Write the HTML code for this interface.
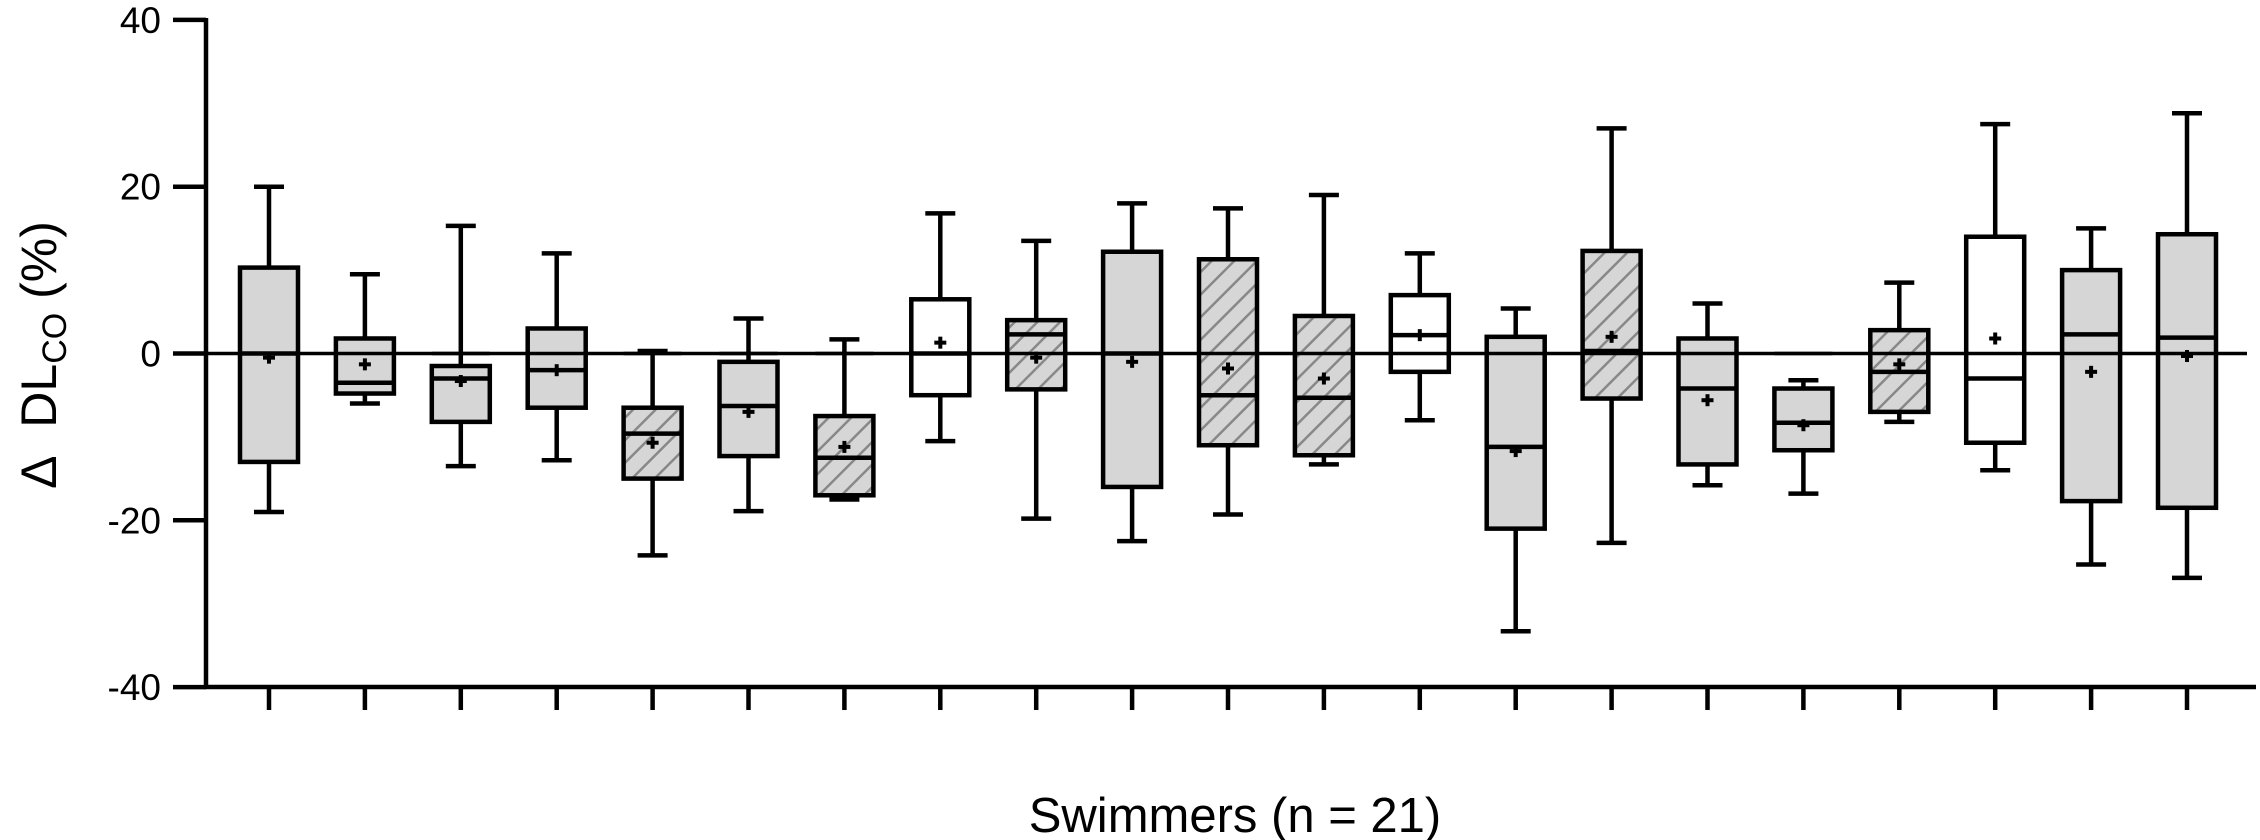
<!DOCTYPE html>
<html><head><meta charset="utf-8"><style>
body{margin:0;background:#fff}
svg{display:block}
text{font-family:"Liberation Sans",sans-serif;fill:#000}
</style></head><body>
<svg id="chart" width="2260" height="840" viewBox="0 0 2260 840" xmlns="http://www.w3.org/2000/svg">
<defs>
<pattern id="hatch" patternUnits="userSpaceOnUse" width="16" height="16" patternTransform="rotate(45)">
<rect width="16" height="16" fill="#d6d6d6"/>
<line x1="0" y1="0" x2="0" y2="16" stroke="#888" stroke-width="5"/>
</pattern>
</defs>
<g id="axes"></g>
<g id="marks"></g>
</svg>
<script>
const swimmers=[1,2,3,4,5,6,7,8,9,10,11,12,13,14,15,16,17,18,19,20,21];
const whiskerHigh=[20,9.5,15.3,12,0.3,4.2,1.7,16.8,13.5,18,17.4,19,12,5.4,27,6,-3.2,8.5,27.5,15,28.8];
const whiskerLow=[-19,-6,-13.5,-12.8,-24.2,-18.9,-17.5,-10.5,-19.8,-22.5,-19.3,-13.3,-8,-33.3,-22.7,-15.8,-16.8,-8.2,-14,-25.3,-26.9];
const q3=[10.3,1.8,-1.5,3,-6.5,-1,-7.5,6.5,4,12.2,11.3,4.5,7,2,12.3,1.8,-4.2,2.8,14,10,14.3];
const q1=[-13,-4.8,-8.2,-6.5,-15,-12.3,-17,-5,-4.3,-16,-11,-12.2,-2.2,-21,-5.4,-13.3,-11.6,-7,-10.7,-17.7,-18.5];
const medians=[0,-3.5,-3,-2,-9.6,-6.3,-12.5,0,2.3,0,-5,-5.3,2.2,-11.2,0.3,-4.2,-8.3,-2.2,-3,2.3,1.9];
const means=[-0.5,-1.3,-3.3,-2,-10.7,-7,-11.2,1.3,-0.5,-1,-1.8,-3,2.2,-11.7,2,-5.6,-8.6,-1.3,1.8,-2.2,-0.3];
const fills=["gray","gray","gray","gray","hatch","gray","hatch","white","hatch","gray","hatch","hatch","white","gray","hatch","gray","gray","hatch","white","gray","gray"];
const yTicks=[40,20,0,-20,-40];

const NS="http://www.w3.org/2000/svg";
const y=v=>353.5-(v*8.34);
const x=i=>269+i*95.9;
const SW=4.5;
function mk(p,tag,a){const e=document.createElementNS(NS,tag);for(const k in a)e.setAttribute(k,a[k]);p.appendChild(e);return e;}
const axes=document.getElementById('axes'), marks=document.getElementById('marks');

let e=mk(axes,'line',{x1:206,y1:18,x2:206,y2:689,stroke:'#000','stroke-width':SW});


e=mk(axes,'line',{x1:204,y1:687,x2:2256,y2:687,stroke:'#000','stroke-width':SW});


yTicks.forEach(t=>{
  const tk=mk(axes,'line',{x1:173,y1:y(t),x2:206,y2:y(t),stroke:'#000','stroke-width':SW});
  
  
  const lb=mk(axes,'text',{x:161,y:y(t)+13,'text-anchor':'end','font-size':37});
  lb.textContent=t;
  
  
});
swimmers.forEach((s,i)=>{
  const tk=mk(axes,'line',{x1:x(i),y1:687,x2:x(i),y2:710,stroke:'#000','stroke-width':SW});
  
  
});
e=mk(axes,'line',{x1:173,y1:y(0),x2:2247,y2:y(0),stroke:'#000','stroke-width':3.5});



const yl=mk(axes,'text',{transform:'translate(56,355) rotate(-90)','text-anchor':'middle','font-size':50});
yl.innerHTML='Δ&#160;&#160;DL<tspan font-size="34" dy="10">CO</tspan><tspan dy="-10"> (%)</tspan>';


const xl=mk(axes,'text',{x:1235,y:832,'text-anchor':'middle','font-size':49});
xl.textContent='Swimmers (n = 21)';



swimmers.forEach((s,i)=>{
  const g=mk(marks,'g',{});
  
  
  const cx=x(i), hw=29, cw=15;
  mk(g,'line',{x1:cx,y1:y(whiskerHigh[i]),x2:cx,y2:y(q3[i]),stroke:'#000','stroke-width':SW});
  mk(g,'line',{x1:cx,y1:y(whiskerLow[i]),x2:cx,y2:y(q1[i]),stroke:'#000','stroke-width':SW});
  mk(g,'line',{x1:cx-cw,y1:y(whiskerHigh[i]),x2:cx+cw,y2:y(whiskerHigh[i]),stroke:'#000','stroke-width':SW});
  mk(g,'line',{x1:cx-cw,y1:y(whiskerLow[i]),x2:cx+cw,y2:y(whiskerLow[i]),stroke:'#000','stroke-width':SW});
  const f=fills[i]==='gray'?'#d6d6d6':fills[i]==='white'?'#fff':'url(#hatch)';
  mk(g,'rect',{x:cx-hw,y:y(q3[i]),width:hw*2,height:y(q1[i])-y(q3[i]),fill:f,stroke:'#000','stroke-width':SW});
  mk(g,'line',{x1:cx-hw,y1:y(0),x2:cx+hw,y2:y(0),stroke:'#000','stroke-width':3.5});
  mk(g,'line',{x1:cx-hw,y1:y(medians[i]),x2:cx+hw,y2:y(medians[i]),stroke:'#000','stroke-width':SW});
  const my=y(means[i]);
  mk(g,'line',{x1:cx-6,y1:my,x2:cx+6,y2:my,stroke:'#000','stroke-width':4});
  mk(g,'line',{x1:cx,y1:my-6,x2:cx,y2:my+6,stroke:'#000','stroke-width':4});
});
</script>
</body></html>
